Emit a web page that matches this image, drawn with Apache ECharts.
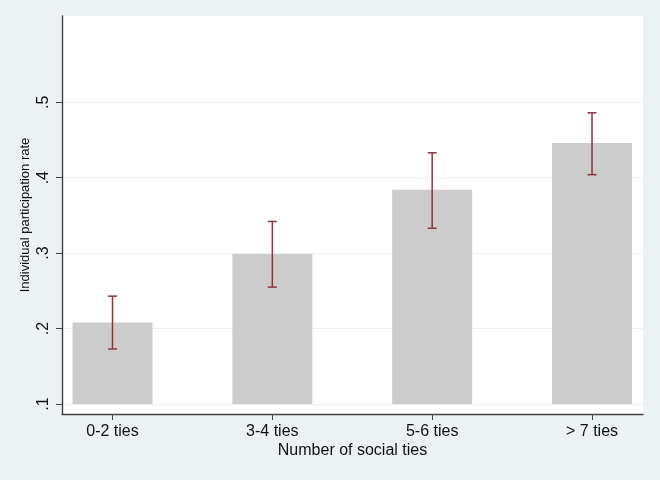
<!DOCTYPE html>
<html>
<head>
<meta charset="utf-8">
<script src="https://cdn.jsdelivr.net/npm/echarts@6/dist/echarts.min.js"></script>
<style>
html,body{margin:0;padding:0;background:#eaf2f3;}
#chart{width:660px;height:480px;}
</style>
</head>
<body>
<div id="chart"></div>
<script>
// Data
var categories = ['0-2 ties', '3-4 ties', '5-6 ties', '> 7 ties'];
var rates = [0.208, 0.299, 0.384, 0.446];
var ciLow = [0.173, 0.255, 0.333, 0.404];
var ciHigh = [0.243, 0.342, 0.433, 0.486];
var yTicks = [0.1, 0.2, 0.3, 0.4, 0.5];
var barBase = 0.1;

var positions = categories.map(function (c, i) { return i + 1; });

var chart = echarts.init(document.getElementById('chart'), null, {renderer: 'canvas'});
var font = 'Liberation Sans, Arial, Helvetica, sans-serif';

var option = {
  backgroundColor: '#eaf2f3',
  animation: false,
  textStyle: {fontFamily: font},
  grid: {
    left: 62, right: 17, top: 16, bottom: 66,
    show: true, backgroundColor: '#ffffff', borderWidth: 0
  },
  xAxis: {
    type: 'value',
    min: 0.684, max: 4.319,
    name: 'Number of social ties',
    nameLocation: 'middle',
    nameGap: 29,
    nameMoveOverlap: false,
    nameTextStyle: {fontSize: 16, color: '#111', fontFamily: font},
    axisLine: {show: true, onZero: false, lineStyle: {color: '#444', width: 1.4}},
    axisTick: {show: true, customValues: positions, length: 6, lineStyle: {color: '#444', width: 1}},
    axisLabel: {
      customValues: positions, margin: 10, fontSize: 16, color: '#111', fontFamily: font,
      formatter: function (v) { return categories[Math.round(v) - 1] || ''; }
    },
    splitLine: {show: false}
  },
  yAxis: {
    type: 'value',
    min: 0.0868, max: 0.6143,
    name: 'Individual participation rate',
    nameLocation: 'middle',
    nameGap: 30,
    nameMoveOverlap: false,
    nameTextStyle: {fontSize: 13, color: '#111', fontFamily: font},
    axisLine: {show: true, onZero: false, lineStyle: {color: '#444', width: 1.4}},
    axisTick: {show: true, customValues: yTicks, length: 6, lineStyle: {color: '#444', width: 1}},
    axisLabel: {
      customValues: yTicks, rotate: 90, margin: 10, fontSize: 16, color: '#111', fontFamily: font,
      formatter: function (v) { return String(Math.round(v * 10) / 10).replace(/^0/, ''); }
    },
    splitLine: {show: true, lineStyle: {color: '#eaf2f3', width: 1}}
  },
  series: [
    {
      type: 'custom', z: 5,
      data: positions.map(function (p, i) { return [p, barBase, rates[i]]; }),
      encode: {x: 0, y: [1, 2]},
      renderItem: function (params, api) {
        var x = api.value(0);
        var b = api.coord([x, api.value(1)]);
        var t = api.coord([x, api.value(2)]);
        var hw = 40;
        return {
          type: 'rect',
          shape: {x: b[0] - hw, y: t[1], width: hw * 2, height: b[1] - t[1]},
          style: {fill: '#cccccc'}
        };
      }
    },
    {
      type: 'custom', z: 10,
      data: positions.map(function (p, i) { return [p, ciLow[i], ciHigh[i]]; }),
      encode: {x: 0, y: [1, 2]},
      renderItem: function (params, api) {
        var x = api.value(0);
        var lo = api.coord([x, api.value(1)]);
        var hi = api.coord([x, api.value(2)]);
        var hw = 4.5;
        var st = {stroke: '#90353b', lineWidth: 1.5};
        return {
          type: 'group',
          children: [
            {type: 'line', shape: {x1: lo[0], y1: lo[1], x2: hi[0], y2: hi[1]}, style: st},
            {type: 'line', shape: {x1: lo[0] - hw, y1: lo[1], x2: lo[0] + hw, y2: lo[1]}, style: st},
            {type: 'line', shape: {x1: hi[0] - hw, y1: hi[1], x2: hi[0] + hw, y2: hi[1]}, style: st}
          ]
        };
      }
    }
  ]
};
chart.setOption(option);
</script>
</body>
</html>
